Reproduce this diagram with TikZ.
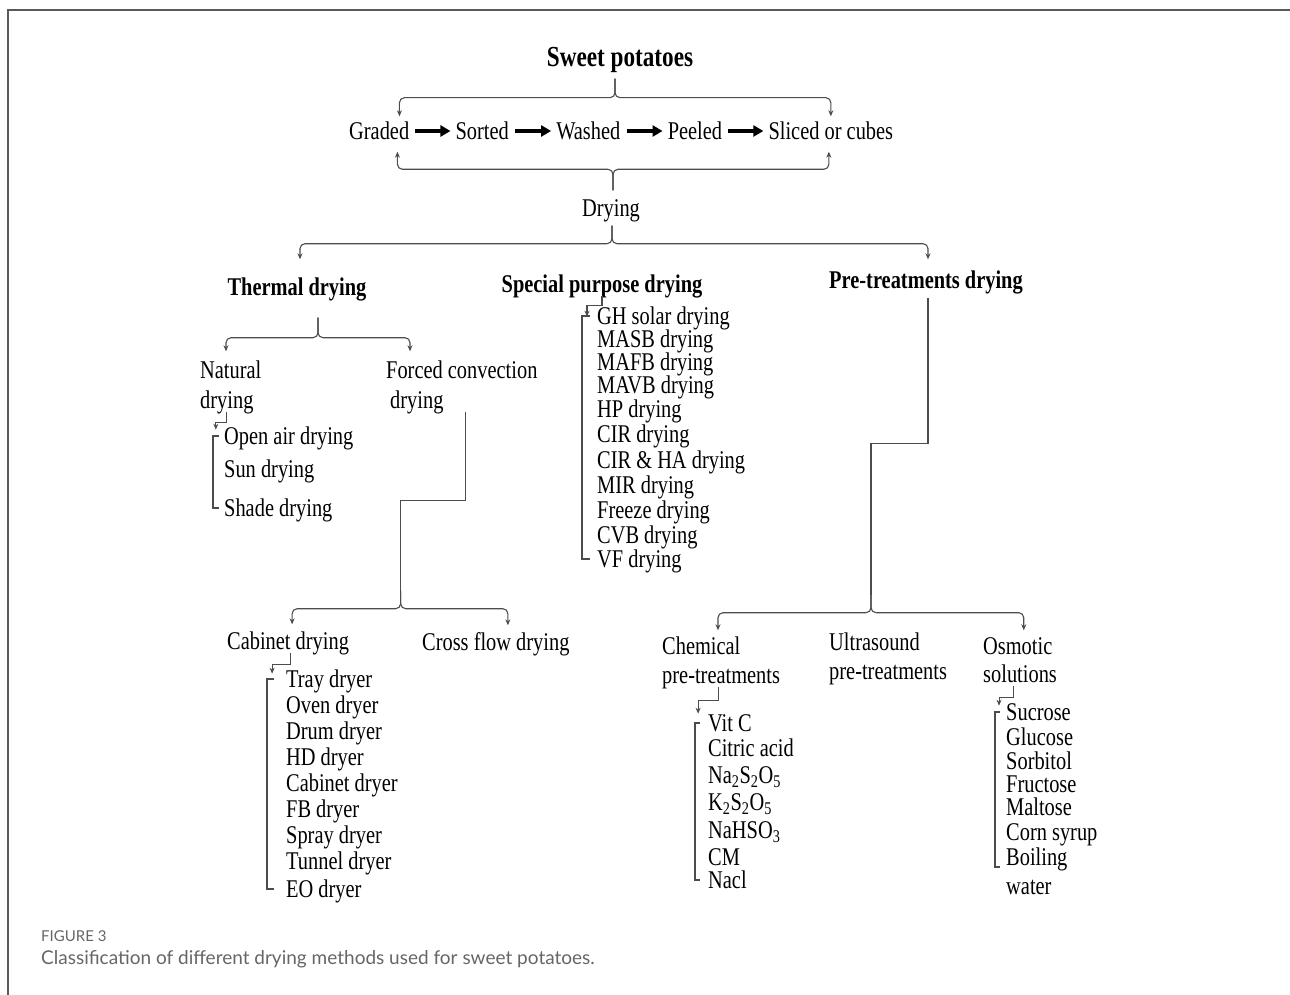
\documentclass[tikz,border=0pt]{standalone}
\usepackage{fontspec}
\setmainfont{Liberation Serif}[FakeStretch=0.8]
\newfontfamily\capfont{Lato}
\usetikzlibrary{arrows.meta, positioning}

\begin{document}
\begin{tikzpicture}[x=1pt, y=-1pt,
    txt/.style={inner sep=0pt, anchor=west, text height=20pt, text depth=3pt, font=\fontsize{25.5}{27}\selectfont},
    head/.style={txt, anchor=center, font=\fontsize{25.5}{27}\selectfont\bfseries},
    link/.style={draw=black!70, line width=1.1pt},
    arr/.style={link, -{Stealth[length=6pt, width=5pt]}},
    fat/.style={line width=3.8pt, -{Triangle[length=10pt, width=11pt]}, shorten <=6pt, shorten >=5pt}]
\useasboundingbox (0,0) rectangle (1290,995);
\draw[black!65, line width=1.2pt] (8,995) -- (8,10) -- (1290,10);

% preparation
\node[head, font=\fontsize{29}{30}\selectfont\bfseries, text height=22pt, text depth=3pt] (sweet) at (620,57) {Sweet potatoes};
\node[txt] (graded) at (349,131) {Graded};
\node[txt, right=46pt of graded] (sorted) {Sorted};
\node[txt, right=47pt of sorted] (washed) {Washed};
\node[txt, right=47pt of washed] (peeled) {Peeled};
\node[txt, right=46pt of peeled] (sliced) {Sliced or cubes};
\node[txt, anchor=center] (drying) at (611,208) {Drying};
\draw[fat] (graded) -- (sorted);
\draw[fat] (sorted) -- (washed);
\draw[fat] (washed) -- (peeled);
\draw[fat] (peeled) -- (sliced);
\draw[arr, rounded corners=5pt, shorten >=3pt] (sweet.south) ++(-5,9) -- ++(0,19) -| ([xshift=-10pt]graded.north east);
\draw[arr, rounded corners=5pt, shorten >=3pt] (sweet.south) ++(-5,9) -- ++(0,19) -| (sliced.north);
\draw[arr, rounded corners=5pt, shorten >=9pt] (drying.north) ++(2,-6) -- ++(0,-21) -| ([xshift=-12pt]graded.south east);
\draw[arr, rounded corners=5pt, shorten >=9pt] (drying.north) ++(2,-6) -- ++(0,-21) -| ([xshift=-2pt]sliced.south);

% three groups
\node[head] (thermal) at (297,287) {Thermal drying};
\node[head] (special) at (602,284) {Special purpose drying};
\node[head] (pretreat) at (926,280) {Pre-treatments drying};
\draw[arr, rounded corners=5pt, shorten >=16pt] (drying.south) ++(1,6) -- ++(0,18) -| ([xshift=3pt]thermal.north);
\draw[arr, rounded corners=5pt, shorten >=9pt] (drying.south) ++(1,6) -- ++(0,18) -| ([xshift=2pt]pretreat.north);

% thermal drying
\node[txt] (natA) at (200,370) {Natural};
\node[txt] (natB) at (200,400) {drying};
\node[txt] (forA) at (386,370) {Forced convection};
\node[txt] (forB) at (390,400) {drying};
\draw[arr, rounded corners=5pt, shorten >=7pt] (thermal.south) ++(21,19) -- ++(0,20) -| ([xshift=26pt]natA.north west);
\draw[arr, rounded corners=5pt, shorten >=7pt] (thermal.south) ++(21,19) -- ++(0,20) -| ([xshift=24pt]forA.north west);

\foreach \t/\y [count=\i] in {Open air drying/436, Sun drying/469, Shade drying/508}
  \node[txt] (nat\i) at (224,\y) {\t};
\draw[arr] (natB.south) -- ++(0,11) -- ++(-11,0) -- ++(0,7);
\draw[link] ([xshift=-5pt]nat1.west) -- ++(-6,0) |- ([xshift=-5pt]nat3.west);

\node[txt] (cab) at (227,641) {Cabinet drying};
\node[txt] (cross) at (422,642) {Cross flow drying};
\draw[link] (forB.south east) ++(22,0) -- ++(0,89) -- ++(-65,0) -- ++(0,90) coordinate (fc);
\draw[arr, rounded corners=5pt, shorten >=5pt] (fc) -- ++(0,18) -| ([xshift=4pt]cab.north);
\draw[arr, rounded corners=5pt, shorten >=5pt] (fc) -- ++(0,18) -| ([xshift=12pt]cross.north);

\foreach \t/\y [count=\i] in {Tray dryer/679, Oven dryer/705, Drum dryer/731, HD dryer/757, Cabinet dryer/783,
    FB dryer/809, Spray dryer/835, Tunnel dryer/861, EO dryer/889}
  \node[txt] (cb\i) at (286,\y) {\t};
\draw[arr] ([xshift=2pt]cab.south) -- ++(0,12) -- ++(-18,0) -- ++(0,9);
\draw[link] ([xshift=-12pt]cb1.west) -- ++(-7,0) |- ([xshift=-12pt]cb9.west);

% special purpose drying
\foreach \t/\y [count=\i] in {GH solar drying/316, MASB drying/339, MAFB drying/362, MAVB drying/385, HP drying/409,
    CIR drying/434, CIR \& HA drying/460, MIR drying/485, Freeze drying/510, CVB drying/535, VF drying/559}
  \node[txt] (spd\i) at (597,\y) {\t};
\draw[arr] (special.south) -- ++(0,10) -- ++(-15,0) -- ++(0,11);
\draw[link] ([xshift=-7pt]spd1.west) -- ++(-8,0) |- ([xshift=-7pt]spd11.west);

% pre-treatments drying
\node[txt] (chemA) at (662,646) {Chemical};
\node[txt] (chemB) at (662,675) {pre-treatments};
\node[txt] (ultA) at (829,642) {Ultrasound};
\node[txt] (ultB) at (829,671) {pre-treatments};
\node[txt] (osmA) at (983,646) {Osmotic};
\node[txt] (osmB) at (983,674) {solutions};
\draw[link] ([xshift=2pt]pretreat.south) ++(0,6) -- ++(0,146) -- ++(-57,0) -- ++(0,151) coordinate (pc);
\draw[arr, rounded corners=5pt, shorten >=4pt] (pc) -- ++(0,18) -| ([xshift=56pt]chemA.north west);
\draw[arr, rounded corners=5pt, shorten >=4pt] (pc) -- ++(0,18) -| ([xshift=6pt]osmA.north);

\foreach \t/\y [count=\i] in {Vit C/723, Citric acid/748, Na\textsubscript{2}S\textsubscript{2}O\textsubscript{5}/775,
    K\textsubscript{2}S\textsubscript{2}O\textsubscript{5}/802, NaHSO\textsubscript{3}/830, CM/857, Nacl/880}
  \node[txt] (ch\i) at (708,\y) {\t};
\draw[arr] ([xshift=-3pt]chemB.south) -- ++(0,14) -- ++(-20,0) -- ++(0,13);
\draw[link] ([xshift=-8pt]ch1.west) -- ++(-5,0) |- ([xshift=-8pt]ch7.west);

\foreach \t/\y [count=\i] in {Sucrose/712, Glucose/737, Sorbitol/761, Fructose/784, Maltose/807,
    Corn syrup/832, Boiling/857, water/886}
  \node[txt] (os\i) at (1006,\y) {\t};
\draw[arr] ([xshift=-7pt]osmB.south) -- ++(0,12) -- ++(-14,0) -- ++(0,8);
\draw[link] ([xshift=-6pt]os1.west) -- ++(-5,0) |- ([xshift=-6pt, yshift=-10pt]os7.west);

% caption
\node[anchor=west, inner sep=0pt, text=black!60, font=\capfont\fontsize{15}{17}\selectfont] (fignum) at (41,936) {FIGURE 3};
\node[anchor=west, inner sep=0pt, text=black!60, font=\capfont\fontsize{19}{21}\selectfont] (figcap) at (41,959) {Classification of different drying methods used for sweet potatoes.};
\end{tikzpicture}
\end{document}
